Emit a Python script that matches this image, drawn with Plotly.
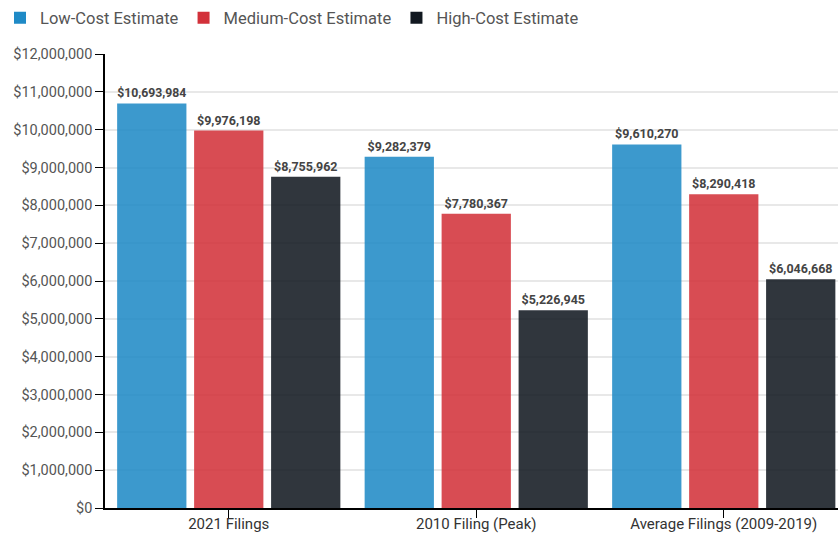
import plotly.graph_objects as go

categories = ["2021 Filings", "2010 Filing (Peak)", "Average Filings (2009-2019)"]
series_names = ["Low-Cost Estimate", "Medium-Cost Estimate", "High-Cost Estimate"]
low_cost = [10693984, 9282379, 9610270]
medium_cost = [9976198, 7780367, 8290418]
high_cost = [8755962, 5226945, 6046668]
colors = ["rgb(31,138,198)", "rgb(210,49,58)", "rgb(17,24,32)"]

fig = go.Figure()
for name, vals, col in zip(series_names, [low_cost, medium_cost, high_cost], colors):
    fig.add_trace(go.Bar(
        x=categories, y=vals, name=name,
        marker=dict(color=col, opacity=0.87, line=dict(width=0)),
        text=["${:,.0f}".format(v) for v in vals],
        textposition="outside",
        textfont=dict(family="Roboto", size=12.5, color="#444", weight="bold"),
        cliponaxis=False,
    ))

fig.update_layout(
    width=838, height=533,
    margin=dict(l=105, r=0, t=54, b=25, autoexpand=False),
    paper_bgcolor="white", plot_bgcolor="white",
    font=dict(family="Roboto", size=14, color="#555"),
    barmode="group", bargap=0.067, bargroupgap=0.1,
    legend=dict(orientation="h", xref="container", yref="container",
                x=-0.011, y=0.966, xanchor="left", yanchor="middle",
                font=dict(size=16.5, color="#555"), itemwidth=30,
                tracegroupgap=0),
    xaxis=dict(range=[-0.5, 2.4616], showline=True, linecolor="black", linewidth=1.5,
               ticks="outside", ticklen=8, tickcolor="black", automargin=False,
               ticklabelstandoff=-7,
               tickfont=dict(size=15, color="#333")),
    yaxis=dict(range=[0, 12000000], dtick=1000000, tickformat="$,.0f",
               showline=True, linecolor="black", linewidth=1.5,
               ticks="outside", ticklen=8, tickcolor="black", automargin=False,
               gridcolor="#e8e8e8", gridwidth=1.5, zeroline=False,
               tickfont=dict(size=14.5, color="#555")),
)

fig.write_html("out.html", config={"displayModeBar": False},
               post_script="document.body.style.margin='0';document.body.style.overflow='hidden';")
